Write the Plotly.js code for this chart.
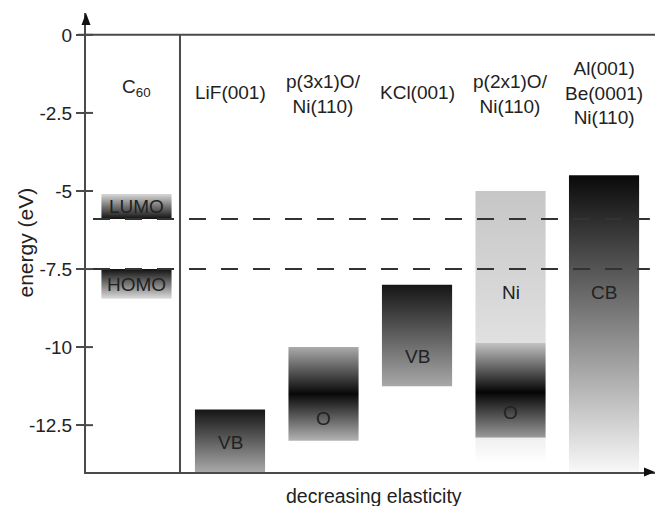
<!DOCTYPE html>
<html>
<head>
<meta charset="utf-8">
<script src="https://cdn.plot.ly/plotly-3.0.1.min.js"></script>
<style>html,body{margin:0;padding:0;background:#fff;}#chart{width:655px;height:506px;}</style>
</head>
<body>
<div id="chart"></div>
<script>
// ---- data ----
const columnLabels = ['C<sub>60</sub>', 'LiF(001)', 'p(3x1)O/<br>Ni(110)', 'KCl(001)', 'p(2x1)O/<br>Ni(110)', 'Al(001)<br>Be(0001)<br>Ni(110)'];
const columnIndex = [0, 1, 2, 3, 4, 5];
const columnLabelY = [-1.7, -1.83, -1.9, -1.83, -1.9, -1.85];

const bandColumn = [0, 0, 1, 2, 3, 4, 4, 4, 5];
const bandTop    = [-5.1, -7.5, -12, -10, -8, -5, -9.87, -12.9, -4.5];
const bandBottom = [-5.9, -8.45, -14, -13, -11.25, -9.87, -12.9, -13.7, -14];
const bandLabel  = ['LUMO', 'HOMO', 'VB', 'O', 'VB', 'Ni', 'O', '', 'CB'];
const bandLabelY = [-5.5, -8.0, -13.05, -12.3, -10.3, -8.25, -12.1, null, -8.25];

const dashedLevels = [-5.9, -7.5];   // C60 LUMO / HOMO
const yTicks = [0, -2.5, -5, -7.5, -10, -12.5];
const yTickText = ['0', '-2.5', '-5', '-7.5', '-10', '-12.5'];
const separatorX = 0.465;

// ---- styles ----
const bandGradient = [
  [[0, '#111111'], [1, '#d6d6d6']],
  [[0, '#dcdcdc'], [1, '#111111']],
  [[0, '#a8a8a8'], [1, '#151515']],
  [[0, '#b3b3b3'], [0.5, '#080808'], [1, '#aaaaaa']],
  [[0, '#a8a8a8'], [1, '#151515']],
  [[0, '#e0e0e0'], [1, '#c6c6c6']],
  [[0, '#9a9a9a'], [0.48, '#050505'], [1, '#c2c2c2']],
  [[0, '#ffffff'], [1, '#efefef']],
  [[0, '#f8f8f8'], [1, '#0a0a0a']]
];
const barWidth = 0.75;
const FONT = 'Liberation Sans, Arial, sans-serif';
const lineCol = '#4a4a4a';
const textCol = '#222222';
const W = 655, H = 506, M = {l: 86, r: 0, t: 13, b: 34};
const PW = W - M.l - M.r, PH = H - M.t - M.b;

// ---- traces ----
const traces = bandColumn.map((c, i) => {
  const x0 = c - barWidth / 2, x1 = c + barWidth / 2;
  return {
    type: 'scatter', mode: 'lines', hoverinfo: 'skip', showlegend: false,
    x: [x0, x1, x1, x0, x0],
    y: [bandBottom[i], bandBottom[i], bandTop[i], bandTop[i], bandBottom[i]],
    fill: 'toself',
    line: {width: 0, color: 'rgba(0,0,0,0)'},
    fillgradient: {type: 'vertical', start: bandBottom[i], stop: bandTop[i], colorscale: bandGradient[i]}
  };
});

// ---- shapes ----
const shapes = [];
shapes.push({type: 'line', xref: 'paper', yref: 'y', x0: -8 / PW, x1: 1, y0: 0, y1: 0, line: {color: lineCol, width: 2}});
shapes.push({type: 'line', xref: 'x', yref: 'y', x0: separatorX, x1: separatorX, y0: 0, y1: -14, line: {color: lineCol, width: 2}});
dashedLevels.forEach(v => shapes.push({type: 'line', xref: 'x', yref: 'y', x0: -0.465, x1: 5.49, y0: v, y1: v,
  line: {color: '#333', width: 2, dash: '17px,15px'}}));
yTicks.forEach(v => shapes.push({type: 'line', xref: 'paper', yref: 'y', x0: 0, x1: 7 / PW, y0: v, y1: v, line: {color: lineCol, width: 2}}));
// axis arrowheads
const ax = 4.5 / PW, ay = 12 / PH;
shapes.push({type: 'path', xref: 'paper', yref: 'paper',
  path: `M 0 1 L ${-ax} ${1 - ay} L ${ax} ${1 - ay} Z`, fillcolor: '#111', line: {width: 0}});
const bx = 11 / PW, by = 4.5 / PH;
shapes.push({type: 'path', xref: 'paper', yref: 'paper',
  path: `M 1 0 L ${1 - bx} ${by} L ${1 - bx} ${-by} Z`, fillcolor: '#111', line: {width: 0}});

// ---- annotations ----
const annotations = [];
columnIndex.forEach((c, i) => annotations.push({x: c, y: columnLabelY[i], xref: 'x', yref: 'y', text: columnLabels[i],
  showarrow: false, font: {family: FONT, size: 19, color: textCol}, align: 'center'}));
bandColumn.forEach((c, i) => { if (bandLabel[i]) annotations.push({x: c, y: bandLabelY[i], xref: 'x', yref: 'y', text: bandLabel[i],
  showarrow: false, font: {family: FONT, size: 19, color: textCol}}); });
annotations.push({xref: 'paper', yref: 'paper', x: 0.506, y: 0, yshift: -24, yanchor: 'middle', xanchor: 'center',
  text: 'decreasing elasticity', showarrow: false, font: {family: FONT, size: 19.5, color: textCol}});
annotations.push({xref: 'paper', yref: 'paper', x: 0, y: 0.5, xshift: -61, xanchor: 'center', yanchor: 'middle',
  text: 'energy (eV)', textangle: -90, showarrow: false, font: {family: FONT, size: 21, color: textCol}});

const layout = {
  width: W, height: H,
  margin: M,
  paper_bgcolor: '#fff', plot_bgcolor: '#fff',
  showlegend: false,
  xaxis: {range: [-0.54, 5.545], showgrid: false, zeroline: false, showticklabels: false, ticks: '',
    showline: true, linecolor: lineCol, linewidth: 2, fixedrange: true},
  yaxis: {range: [-14, 0.7], showgrid: false, zeroline: false, showline: true, linecolor: lineCol, linewidth: 2,
    tickmode: 'array', tickvals: yTicks, ticktext: yTickText, ticks: 'outside', ticklen: 8, tickwidth: 2, tickcolor: lineCol,
    tickfont: {family: FONT, size: 19, color: textCol}, fixedrange: true},
  shapes: shapes,
  annotations: annotations
};

Plotly.newPlot('chart', traces, layout, {displayModeBar: false, staticPlot: true});
</script>
</body>
</html>
